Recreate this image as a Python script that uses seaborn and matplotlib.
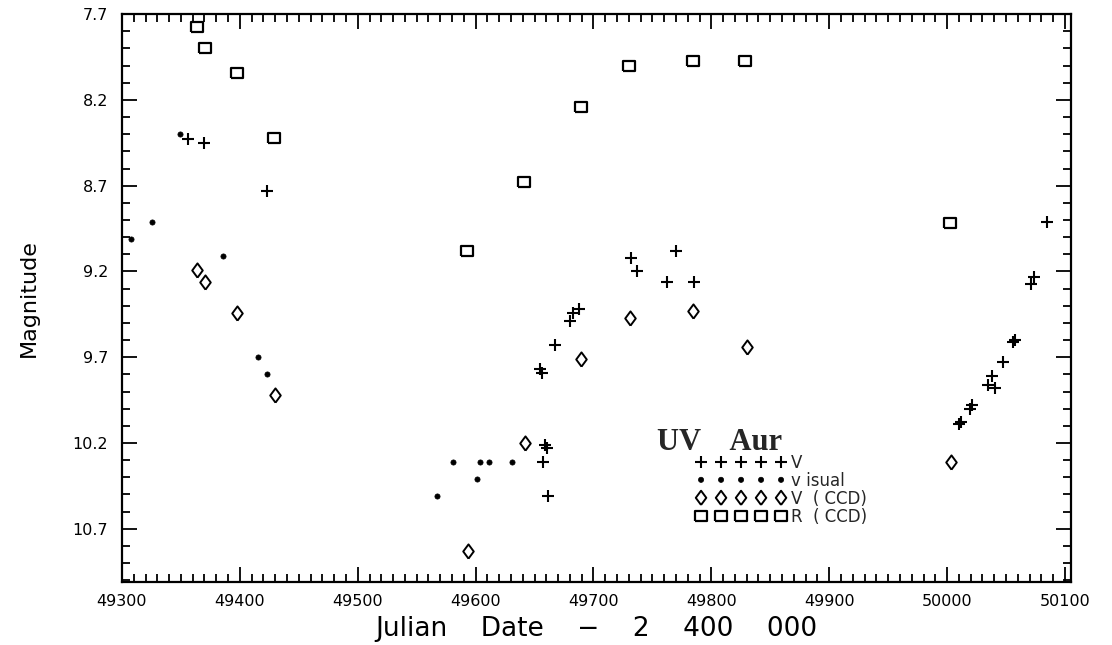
import numpy as np
import pandas as pd
import matplotlib
matplotlib.use("Agg")
import matplotlib.pyplot as plt
from matplotlib.ticker import MultipleLocator, FixedLocator
import seaborn as sns

# ---- data (JD - 2400000, magnitude) ----
v_jd = [49355.9, 49369.5, 49422.9, 49654.5, 49656.0, 49667.0, 49680.5, 49683.0, 49688.0,
        49732.0, 49737.0, 49770.0, 49762.0, 49785.0, 49659.0, 49660.5, 49657.6, 49661.0,
        50084.7, 50073.7, 50071.0, 50056.0, 50058.0, 50047.5, 50038.0, 50034.7, 50040.7,
        50021.0, 50019.5, 50012.0, 50010.5]
v_mag = [8.43, 8.45, 8.73, 9.77, 9.79, 9.63, 9.49, 9.44, 9.42,
         9.12, 9.20, 9.08, 9.26, 9.26, 10.21, 10.23, 10.31, 10.51,
         8.91, 9.23, 9.27, 9.61, 9.60, 9.73, 9.81, 9.86, 9.88,
         9.98, 10.00, 10.08, 10.09]

vis_jd = [49307.6, 49325.4, 49349.0, 49385.6, 49415.0, 49423.0, 49567.0, 49580.5, 49600.8,
          49604.0, 49611.0, 49631.0, 49689.0]
vis_mag = [9.01, 8.91, 8.40, 9.11, 9.70, 9.80, 10.51, 10.31, 10.41,
           10.31, 10.31, 10.31, 9.70]

vccd_jd = [49363.6, 49370.3, 49397.5, 49429.7, 49593.2, 49641.5, 49689.0, 49731.4, 49784.7,
           49830.5, 50003.4]
vccd_mag = [9.19, 9.26, 9.44, 9.92, 10.83, 10.20, 9.71, 9.47, 9.43, 9.64, 10.31]

rccd_jd = [49363.6, 49370.3, 49397.5, 49428.8, 49592.4, 49640.7, 49689.0, 49730.5, 49784.7,
           49828.8, 50002.5]
rccd_mag = [7.776, 7.90, 8.04, 8.42, 9.08, 8.68, 8.24, 8.00, 7.97, 7.97, 8.92]

x_ticks = [49300, 49400, 49500, 49600, 49700, 49800, 49900, 50000, 50100]
y_ticks = [7.7, 8.2, 8.7, 9.2, 9.7, 10.2, 10.7]

labels = ["V", "v isual", "V  ( CCD)", "R  ( CCD)"]

# ---- style ----
sns.set_theme(style="ticks")
plt.rcParams['font.family'] = ['DejaVu Sans']

fig = plt.figure(figsize=(11.12, 6.45), dpi=100)
ax = fig.add_axes([0.1097, 0.0977, 0.963 - 0.1097, 0.978 - 0.0977])

square = [(-1.2, -1.0), (1.2, -1.0), (1.2, 1.0), (-1.2, 1.0), (-1.2, -1.0)]
diamond = [(0, -1.35), (1.0, 0), (0, 1.35), (-1.0, 0), (0, -1.35)]

sns.scatterplot(x=v_jd, y=v_mag, marker="+", s=80, color="black", linewidth=1.5,
                ax=ax, label=labels[0])
sns.scatterplot(x=vis_jd, y=vis_mag, marker="o", s=14, color="black", edgecolor="black",
                linewidth=0.5, ax=ax, label=labels[1])
sns.scatterplot(x=vccd_jd, y=vccd_mag, marker=diamond, s=105, facecolor="white",
                edgecolor="black", linewidth=1.4, ax=ax, label=labels[2])
sns.scatterplot(x=rccd_jd, y=rccd_mag, marker=square, s=70, facecolor="white",
                edgecolor="black", linewidth=1.6, ax=ax, label=labels[3])

ax.set_xlim(49300, 50105)
ax.set_ylim(11.01, 7.7)

ax.xaxis.set_major_locator(FixedLocator(x_ticks))
ax.xaxis.set_minor_locator(MultipleLocator(10))
ax.yaxis.set_major_locator(FixedLocator(y_ticks))
ax.yaxis.set_minor_locator(MultipleLocator(0.1))
ax.set_xticklabels([str(t) for t in x_ticks])
ax.set_yticklabels([f"{t:.1f}" for t in y_ticks])

ax.tick_params(which="both", direction="in", top=True, right=True, color="black",
               labelsize=11.5, labelcolor="black", width=1.3)
ax.tick_params(which="major", length=11, pad=9)
ax.tick_params(axis="y", which="major", pad=10)
ax.tick_params(which="minor", length=6)
for sp in ax.spines.values():
    sp.set_linewidth(1.6)
    sp.set_color("black")

ax.set_ylabel("Magnitude", fontsize=16, labelpad=24, color="black")
ax.set_xlabel("Julian    Date    \u2212    2    400    000", fontsize=19,
              labelpad=5, color="black")

leg = ax.legend(loc="upper left", bbox_to_anchor=(0.605, 0.226), frameon=False,
                scatterpoints=5, scatteryoffsets=[0.5], fontsize=12, handlelength=5.4,
                handletextpad=0.3, labelspacing=0.0, borderpad=0, borderaxespad=0)
ax.text(0.5637, 0.232, "UV    Aur", transform=ax.transAxes, fontsize=22,
        fontweight="bold", family="Liberation Serif", va="baseline", ha="left")

fig.savefig("out.png", dpi=100, facecolor="white")
